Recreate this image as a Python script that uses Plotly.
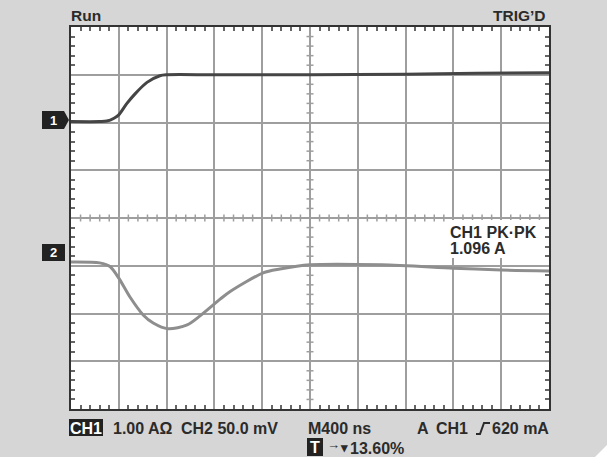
import numpy as np
import plotly.graph_objects as go

# ---- data (divisions: x 0..10, y -4..4) ----
ch1_t = [0, 0.6, 0.75, 0.9, 1.0, 1.17, 1.34, 1.59, 1.86, 2.0, 3.0, 5.0, 7.0, 8.5, 10]
ch1_v = [2.02, 2.02, 2.03, 2.09, 2.16, 2.40, 2.60, 2.84, 2.98, 3.0, 3.0, 3.0, 3.01, 3.03, 3.04]

ch2_t = [0, 0.6, 0.82, 1.0, 1.23, 1.51, 1.72, 2.03, 2.43, 2.7, 3.12, 3.33, 4.02, 4.37, 5.0, 6.5, 8.0, 9.0, 10]
ch2_v = [-0.92, -0.94, -1.02, -1.26, -1.65, -2.03, -2.20, -2.32, -2.24, -2.05, -1.70, -1.54, -1.15, -1.07, -0.98, -0.98, -1.05, -1.09, -1.11]

top_left = "Run"
top_right = "TRIG\u2019D"
meas_label = "CH1 PK\u00b7PK"
meas_value = "1.096 A"

W, H = 607, 457
L, R, T, B = 71, 549, 27, 409
TXT = "#2b2b2b"
FONT = "Liberation Sans, Arial, sans-serif"


def X(px):
    return (px - L) / (R - L)


def Y(py):
    return (B - py) / (B - T)


fig = go.Figure()

# centre-cross tick marks
minor = np.round(np.arange(0.2, 10.0, 0.2), 2)
minor_x = [v for v in minor if abs(v - round(v)) > 1e-6]
minor_y = np.round(np.arange(-3.8, 4.0, 0.2), 2)
minor_y = [v for v in minor_y if abs(v - round(v)) > 1e-6]
fig.add_trace(go.Scatter(x=minor_x, y=[0] * len(minor_x), mode="markers",
                         marker=dict(symbol="line-ns", size=5, line=dict(width=1.5, color="#9e9e9e")),
                         hoverinfo="skip", showlegend=False))
fig.add_trace(go.Scatter(x=[5] * len(minor_y), y=minor_y, mode="markers",
                         marker=dict(symbol="line-ew", size=5, line=dict(width=1.5, color="#9e9e9e")),
                         hoverinfo="skip", showlegend=False))

fig.add_trace(go.Scatter(x=ch2_t, y=ch2_v, mode="lines", line=dict(color="#8e8e8e", width=3, shape="spline", smoothing=0.8),
                         showlegend=False))
fig.add_trace(go.Scatter(x=ch1_t, y=ch1_v, mode="lines", line=dict(color="#454545", width=3, shape="spline", smoothing=0.8),
                         showlegend=False))

axis_common = dict(showgrid=True, gridcolor="#9e9e9e", gridwidth=1.5, dtick=1, zeroline=False,
                   showticklabels=False, showline=True, linecolor="#333333", linewidth=2, mirror="ticks",
                   ticks="inside", ticklen=0, tickcolor="#555555",
                   minor=dict(dtick=0.2, ticks="inside", ticklen=4, tickcolor="#666666", tickwidth=1.5, showgrid=False))
fig.update_xaxes(range=[0, 10], **axis_common)
fig.update_yaxes(range=[-4, 4], **axis_common)

shapes = []
# measurement label background
shapes.append(dict(type="rect", xref="paper", yref="paper", x0=X(445), x1=X(541), y0=Y(258), y1=Y(220),
                   fillcolor="white", line=dict(width=0), layer="above"))
# channel markers
shapes.append(dict(type="path", xref="paper", yref="paper",
                   path=f"M {X(42)},{Y(111)} L {X(64)},{Y(111)} L {X(69)},{Y(120)} L {X(64)},{Y(129)} L {X(42)},{Y(129)} Z",
                   fillcolor="#222222", line=dict(width=0)))
shapes.append(dict(type="rect", xref="paper", yref="paper", x0=X(42), x1=X(65), y0=Y(261), y1=Y(244),
                   fillcolor="#222222", line=dict(width=0)))
# inverted labels at bottom
shapes.append(dict(type="rect", xref="paper", yref="paper", x0=X(69), x1=X(103), y0=Y(436), y1=Y(419),
                   fillcolor="#222222", line=dict(width=0)))
shapes.append(dict(type="rect", xref="paper", yref="paper", x0=X(307), x1=X(323), y0=Y(456), y1=Y(438),
                   fillcolor="#222222", line=dict(width=0)))
# rising edge symbol
shapes.append(dict(type="path", xref="paper", yref="paper",
                   path=f"M {X(476)},{Y(434)} L {X(480)},{Y(434)} L {X(484)},{Y(423)} L {X(490)},{Y(423)}",
                   line=dict(color=TXT, width=2)))
# folded corner
shapes.append(dict(type="path", xref="paper", yref="paper",
                   path=f"M {X(595)},{Y(457)} L {X(607)},{Y(445)} L {X(607)},{Y(457)} Z",
                   fillcolor="white", line=dict(width=0)))

ann = []


def add(text, px, py, xanchor="left", size=16, color=TXT):
    ann.append(dict(text=f"<b>{text}</b>", x=X(px), y=Y(py), xref="paper", yref="paper",
                    xanchor=xanchor, yanchor="middle", showarrow=False,
                    font=dict(size=size, color=color, family=FONT)))


add(top_left, 69, 15, size=15.5)
add(top_right, 548, 15, xanchor="right", size=15.5)
add("1", 53.5, 120, xanchor="center", size=13, color="white")
add("2", 53.5, 252.5, xanchor="center", size=13, color="white")
add(meas_label, 448, 232)
add(meas_value, 448, 248.5)
add("CH1", 86, 428, xanchor="center", color="white")
add("1.00 A\u03a9", 111, 428.5)
add("CH2 50.0 mV", 179, 428.5)
add("M400 ns", 306, 428.5)
add("A", 415, 428.5)
add("CH1", 434, 428.5)
add("620 mA", 490, 428.5)
add("T", 315, 447.5, xanchor="center", color="white")
add("\u2192", 325, 444.5, size=13)
add("\u25be", 338, 447.5, size=13)
add("13.60%", 348, 448.5)

fig.update_layout(width=W, height=H, margin=dict(l=L, r=W - R, t=T, b=H - B),
                  paper_bgcolor="#d6d6d6", plot_bgcolor="white",
                  shapes=shapes, annotations=ann, showlegend=False)

fig.write_html("out.html", config={"displayModeBar": False},
               post_script="document.body.style.margin='0';document.body.style.overflow='hidden';")
